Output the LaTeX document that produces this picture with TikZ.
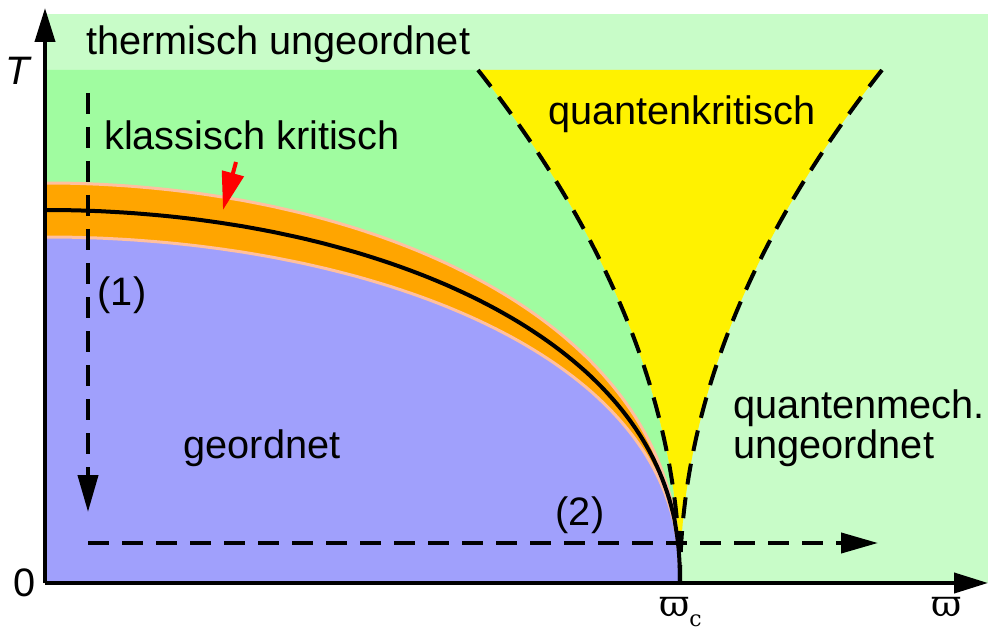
\documentclass[tikz,border=0pt]{standalone}
\usepackage{fontspec}
\setmainfont{Liberation Sans}
\newfontfamily\symbfont{DejaVu Serif}
\usetikzlibrary{arrows.meta}
\definecolor{paleGreen}{RGB}{200,252,200}
\definecolor{midGreen}{RGB}{160,252,160}
\definecolor{orderBlue}{RGB}{160,160,252}
\definecolor{critOrange}{RGB}{255,165,0}
\definecolor{bandEdge}{RGB}{255,192,160}
\tikzset{
  phase/.style={font=\fontsize{39.7}{40}\selectfont,inner sep=0pt,align=left},
  axis/.style={line width=4pt,-{Triangle[length=34pt,width=20pt]}},
  path line/.style={line width=4pt,dash pattern=on 21pt off 13pt,
    -{Triangle[length=37pt,width=20pt]}},
  crossover/.style={line width=4pt,dash pattern=on 21pt off 13pt},
  edge/.style={draw=bandEdge,line width=3pt}}

\begin{document}
\begin{tikzpicture}[x=1pt,y=1pt]
  \useasboundingbox (-45,-47) rectangle (943,583);
  \coordinate (O) at (0,0);
  \coordinate (wc) at (635,0);
  \coordinate (ytop) at (0,575);
  \coordinate (xend) at (943,0);
  \coordinate (ql) at (433,513);
  \coordinate (qr) at (837,513);
  \coordinate (cl) at (567.7,342);
  \coordinate (cr) at (702.3,342);
  \coordinate (cb) at (635,171);
  % regions
  \fill[paleGreen] (O) rectangle (943,569);
  \fill[midGreen] (O) -- (0,513) -- (ql) .. controls (cl) and (cb) .. (wc) -- cycle;
  \fill[yellow] (ql) -- (qr) .. controls (cr) and (cb) .. (wc)
    .. controls (cb) and (cl) .. (ql) -- cycle;
  \path[fill=critOrange,edge] (O) -- plot[domain=0:89.5,samples=90,variable=\t]
    ({635*sin(\t)},{400*pow(cos(\t),0.88)}) -- (wc);
  \path[fill=orderBlue,edge] (O) -- plot[domain=0:89.5,samples=90,variable=\t]
    ({635*sin(\t)},{346*pow(cos(\t),0.88)}) -- (wc);
  \draw[line width=4pt] plot[domain=0:89.5,samples=90,variable=\t]
    ({635*sin(\t)},{373*pow(cos(\t),0.88)}) -- (wc);
  % crossover lines
  \draw[crossover] (ql) .. controls (cl) and (cb) .. (wc);
  \draw[crossover] (qr) .. controls (cr) and (cb) .. (wc);
  % paths (1) and (2)
  \coordinate (p1a) at (43,490);
  \coordinate (p1b) at (43,71);
  \coordinate (p2a) at (43,40);
  \coordinate (p2b) at (833,40);
  \draw[path line] (p1a) -- (p1b);
  \draw[path line] (p2a) -- (p2b);
  % axes
  \draw[axis] (O) -- (ytop);
  \draw[axis] (O) -- (xend);
  % labels
  \node[phase,anchor=base west] (therm) at (41,528) {thermisch ungeordnet};
  \node[phase,anchor=base west] (klass) at (59,433) {klassisch kritisch};
  \node[phase,anchor=base west] (quant) at (503,458) {quantenkritisch};
  \node[phase,anchor=base] (ord) at (217,125) {geordnet};
  \node[phase,anchor=base west] (qmech) at (688,125) {quantenmech.\\ungeordnet};
  \node[phase,anchor=base] (one) at (77,278) {(1)};
  \node[phase,anchor=base] (two) at (535,58) {(2)};
  \node[phase,font=\fontsize{39.7}{40}\selectfont\itshape] (tlab) at (-27,512) {T};
  \node[phase] (zero) at (-20,0) {0};
  \node[inner sep=0pt,anchor=base west] (wclab) at (614,-33)
    {\symbfont\fontsize{37}{37}\selectfont ϖ\raisebox{-10pt}{\fontsize{22}{22}\selectfont c}};
  \node[inner sep=0pt,anchor=base] (wlab) at (902,-33)
    {\symbfont\fontsize{37}{37}\selectfont ϖ};
  % red marker
  \coordinate (mka) at (191,421);
  \coordinate (mkb) at (178,373);
  \draw[red,line width=4pt,-{Triangle[length=38pt,width=22pt]}] (mka) -- (mkb);
\end{tikzpicture}
\end{document}
